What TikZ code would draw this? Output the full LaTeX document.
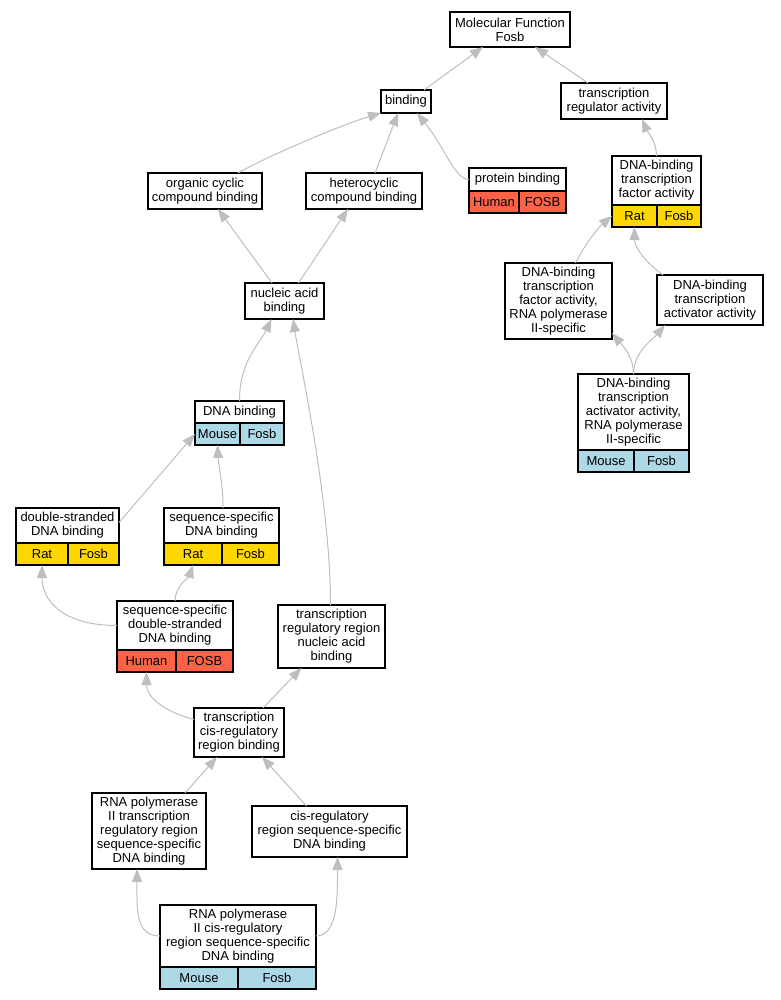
\documentclass[tikz,border=0pt]{standalone}
\usepackage{fontspec}
\setmainfont{Liberation Sans}
\usetikzlibrary{positioning,calc,arrows.meta}

\definecolor{edgegray}{RGB}{190,190,190}
\definecolor{ratgold}{RGB}{255,215,0}
\definecolor{humanred}{RGB}{255,99,71}
\definecolor{mouseblue}{RGB}{173,216,230}

\tikzset{
  term/.style={draw=black, line width=1.1pt, fill=white, inner sep=0pt, outer sep=0pt, align=center},
  cell/.style={draw=black, line width=1.1pt, inner sep=0pt, outer sep=0pt, minimum height=22, anchor=north west},
  isa/.style={draw=edgegray, line width=1pt, -{Triangle[length=13pt,width=10pt]}},
}

\begin{document}
\begin{tikzpicture}[x=1pt,y=-1pt,font=\fontsize{13}{14}\selectfont]
\useasboundingbox (0,0) rectangle (780,1000);

% terms
\node[term, minimum width=120, minimum height=35] (mf) at (510,29.5) {Molecular Function\\Fosb};
\node[term, minimum width=50, minimum height=23] (bind) at (406,101.5) {binding};
\node[term, minimum width=106, minimum height=36] (treg) at (614,101) {transcription\\regulator activity};
\node[term, minimum width=114, minimum height=36] (orgc) at (205,191) {organic cyclic\\compound binding};
\node[term, minimum width=116, minimum height=36] (hetc) at (364,191) {heterocyclic\\compound binding};
\node[term, minimum width=97, minimum height=23] (prot) at (517.5,179.5) {protein binding};
\node[cell, fill=humanred, minimum width=50] (protL) at (prot.south west) {Human};
\node[cell, fill=humanred, minimum width=47] (protR) at (protL.north east) {FOSB};
\node[term, minimum width=89, minimum height=49] (dbtf) at (656.5,180.5) {DNA-binding\\transcription\\factor activity};
\node[cell, fill=ratgold, minimum width=45] (dbtfL) at (dbtf.south west) {Rat};
\node[cell, fill=ratgold, minimum width=44] (dbtfR) at (dbtfL.north east) {Fosb};
\node[term, minimum width=79, minimum height=36] (nab) at (284.5,301) {nucleic acid\\binding};
\node[term, minimum width=107, minimum height=76] (dbtf2) at (558.5,301) {DNA-binding\\transcription\\factor activity,\\RNA polymerase\\II-specific};
\node[term, minimum width=106, minimum height=50] (dbta) at (710,300) {DNA-binding\\transcription\\activator activity};
\node[term, minimum width=111, minimum height=76] (dbta2) at (633.5,412) {DNA-binding\\transcription\\activator activity,\\RNA polymerase\\II-specific};
\node[cell, fill=mouseblue, minimum width=56] (dbta2L) at (dbta2.south west) {Mouse};
\node[cell, fill=mouseblue, minimum width=55] (dbta2R) at (dbta2L.north east) {Fosb};
\node[term, minimum width=89, minimum height=22] (dnab) at (239.5,412) {DNA binding};
\node[cell, fill=mouseblue, minimum width=45] (dnabL) at (dnab.south west) {Mouse};
\node[cell, fill=mouseblue, minimum width=44] (dnabR) at (dnabL.north east) {Fosb};
\node[term, minimum width=103, minimum height=35] (dsdna) at (67.5,525.5) {double-stranded\\DNA binding};
\node[cell, fill=ratgold, minimum width=52] (dsdnaL) at (dsdna.south west) {Rat};
\node[cell, fill=ratgold, minimum width=51] (dsdnaR) at (dsdnaL.north east) {Fosb};
\node[term, minimum width=115, minimum height=35] (ssdna) at (221.5,525.5) {sequence-specific\\DNA binding};
\node[cell, fill=ratgold, minimum width=58] (ssdnaL) at (ssdna.south west) {Rat};
\node[cell, fill=ratgold, minimum width=57] (ssdnaR) at (ssdnaL.north east) {Fosb};
\node[term, minimum width=116, minimum height=49] (ssds) at (175,625.5) {sequence-specific\\double-stranded\\DNA binding};
\node[cell, fill=humanred, minimum width=59] (ssdsL) at (ssds.south west) {Human};
\node[cell, fill=humanred, minimum width=57] (ssdsR) at (ssdsL.north east) {FOSB};
\node[term, minimum width=107, minimum height=63] (trnab) at (331.5,636.5) {transcription\\regulatory region\\nucleic acid\\binding};
\node[term, minimum width=90, minimum height=49] (tcrb) at (239,732.5) {transcription\\cis-regulatory\\region binding};
\node[term, minimum width=114, minimum height=76] (rnap2) at (149,831) {RNA polymerase\\II transcription\\regulatory region\\sequence-specific\\DNA binding};
\node[term, minimum width=155, minimum height=51] (crss) at (329.5,831.5) {cis-regulatory\\region sequence-specific\\DNA binding};
\node[term, minimum width=156, minimum height=62] (rnapc) at (238,936) {RNA polymerase\\II cis-regulatory\\region sequence-specific\\DNA binding};
\node[cell, fill=mouseblue, minimum width=78] (rnapcL) at (rnapc.south west) {Mouse};
\node[cell, fill=mouseblue, minimum width=78] (rnapcR) at (rnapcL.north east) {Fosb};

% is_a edges
\draw[isa] ($(bind.north east)+(-7,0)$) -- ($(mf.south)+(-27,0)$);
\draw[isa] ($(treg.north)+(-26,0)$) -- ($(mf.south)+(25,0)$);
\draw[isa] ($(orgc.north)+(33,0)$) .. controls +(30,-17) and +(-40,12) .. (bind.south west);
\draw[isa] ($(hetc.north)+(11,0)$) -- ($(bind.south)+(-8,0)$);
\draw[isa] (prot.west) .. controls +(-14,0) and +(28,35) .. ($(bind.south)+(11,0)$);
\draw[isa] (dbtf.north) .. controls +(0,-15) and +(6,14) .. ($(treg.south)+(28,0)$);
\draw[isa] ($(nab.north)+(-12.5,0)$) -- ($(orgc.south)+(13,0)$);
\draw[isa] ($(nab.north)+(14,0)$) -- ($(hetc.south)+(-16,0)$);
\draw[isa] ($(dbtf2.north)+(17,0)$) .. controls +(10,-20) and +(-12,10) .. (dbtfL.west);
\draw[isa] ($(dbta.north west)+(6,0)$) .. controls +(-14,-10) and +(0,22) .. (dbtfL.south);
\draw[isa] (dbta2.north) .. controls +(0,-18) and +(10,12) .. ($(dbtf2.south east)+(0,-6)$);
\draw[isa] (dbta2.north) .. controls +(0,-22) and +(-12,14) .. ($(dbta.south west)+(8,0)$);
\draw[isa] (dnab.north) .. controls +(0,-40) and +(-12,25) .. ($(nab.south)+(-13,0)$);
\draw[isa] ($(trnab.north)+(-1,0)$) .. controls +(0,-105) and +(7,45) .. ($(nab.south)+(8.5,0)$);
\draw[isa] ($(dsdna.east)+(0,-3)$) -- (dnabL.west);
\draw[isa] ($(ssdna.north)+(1.5,0)$) .. controls +(0,-25) and +(1,20) .. (dnabL.south);
\draw[isa] (ssds.west) .. controls +(-55,0) and +(0,35) .. (dsdnaL.south);
\draw[isa] (ssds.north) .. controls +(0,-15) and +(-4,12) .. (ssdnaL.south);
\draw[isa] ($(tcrb.west)+(0,-13)$) .. controls +(-30,-8) and +(0,25) .. (ssdsL.south);
\draw[isa] ($(tcrb.north)+(24,0)$) -- ($(trnab.south)+(-30,0)$);
\draw[isa] ($(rnap2.north)+(36,0)$) -- ($(tcrb.south)+(-22,0)$);
\draw[isa] ($(crss.north)+(-23,0)$) -- ($(tcrb.south)+(23,0)$);
\draw[isa] (rnapc.west) .. controls +(-25,0) and +(0,40) .. ($(rnap2.south)+(-12,0)$);
\draw[isa] (rnapc.east) .. controls +(22,0) and +(0,40) .. ($(crss.south)+(8,0)$);
\end{tikzpicture}
\end{document}
